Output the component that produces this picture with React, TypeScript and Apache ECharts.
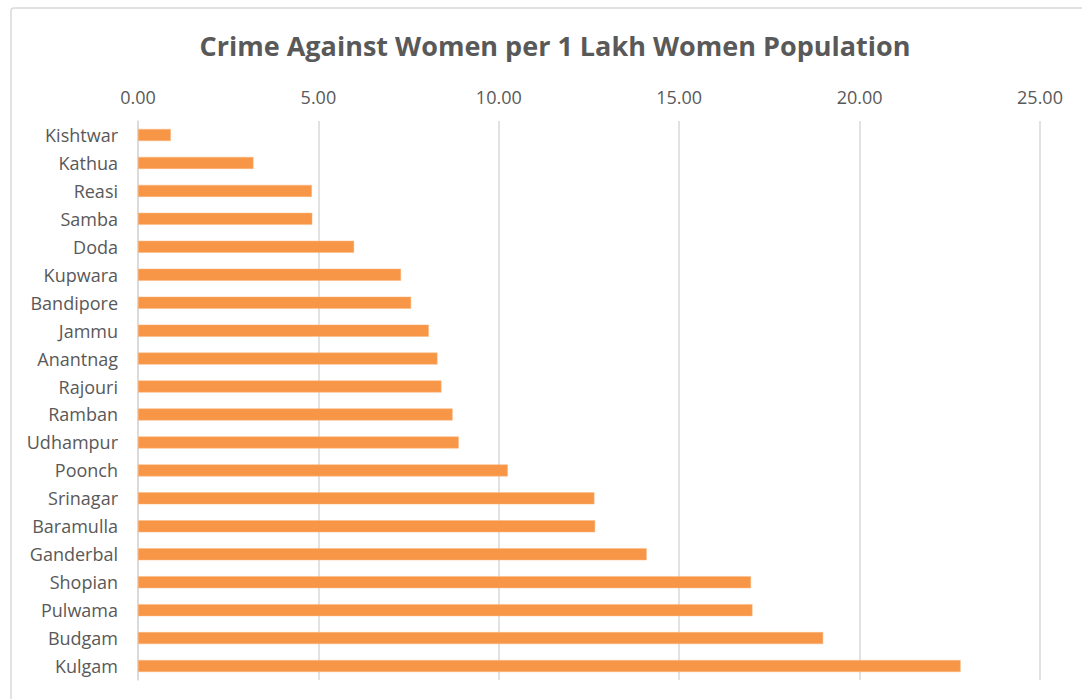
import React, { useEffect, useRef } from "react";
import * as echarts from "echarts";

const categories = [
  "Kishtwar", "Kathua", "Reasi", "Samba", "Doda", "Kupwara", "Bandipore", "Jammu",
  "Anantnag", "Rajouri", "Ramban", "Udhampur", "Poonch", "Srinagar", "Baramulla",
  "Ganderbal", "Shopian", "Pulwama", "Budgam", "Kulgam",
];
const values = [
  0.91, 3.2, 4.82, 4.83, 5.99, 7.29, 7.57, 8.06, 8.3, 8.41, 8.72, 8.89, 10.25,
  12.65, 12.67, 14.1, 16.99, 17.03, 18.99, 22.8,
];
const xMin = 0;
const xMax = 25;
const xInterval = 5;
const titleText = "Crime Against Women per 1 Lakh Women Population";

export default function App() {
  const ref = useRef<HTMLDivElement>(null);
  useEffect(() => {
    document.body.style.margin = "0";
    const chart = echarts.init(ref.current!, null, { renderer: "svg" });
    chart.setOption({
      animation: false,
      backgroundColor: "#ffffff",
      title: {
        text: titleText,
        left: 550,
        textAlign: "center",
        top: 27,
        textStyle: {
          fontFamily: "Open Sans",
          fontWeight: "bold",
          fontSize: 27,
          color: "#595959",
        },
      },
      graphic: [
        {
          type: "rect",
          shape: { x: 11, y: 8, width: 1090, height: 720, r: 3 },
          style: { fill: "none", stroke: "#d9d9d9", lineWidth: 1.5 },
          silent: true,
        },
      ],
      grid: { left: 138, right: 42, top: 121, bottom: 19, containLabel: false },
      xAxis: {
        type: "value",
        position: "top",
        min: xMin,
        max: xMax,
        interval: xInterval,
        axisLine: { show: false },
        axisTick: { show: false },
        axisLabel: {
          formatter: (v: number) => v.toFixed(2),
          fontFamily: "Open Sans",
          fontSize: 18,
          color: "#595959",
          margin: 15,
        },
        splitLine: { lineStyle: { color: "#d9d9d9", width: 1.5 } },
      },
      yAxis: {
        type: "category",
        inverse: true,
        data: categories,
        axisLine: { show: true, lineStyle: { color: "#d9d9d9", width: 1.5 } },
        axisTick: { show: false },
        axisLabel: {
          fontFamily: "Open Sans",
          fontSize: 18,
          color: "#595959",
          margin: 20,
        },
      },
      series: [
        {
          type: "bar",
          data: values,
          barWidth: 12,
          itemStyle: { color: "#F79646", borderColor: "#FAB983", borderWidth: 0.5 },
        },
      ],
    });
    return () => chart.dispose();
  }, []);
  return <div ref={ref} style={{ width: 1082, height: 699 }} />;
}
